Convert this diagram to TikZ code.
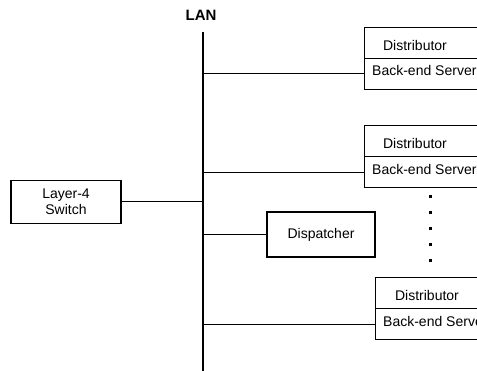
\documentclass[tikz,border=0pt]{standalone}
\usepackage{fontspec}
\setmainfont{Liberation Sans}
\begin{document}
\begin{tikzpicture}[x=1pt,y=-1pt,
  wire/.style={line width=1.1pt},
  box/.style={draw,line width=1.1pt,rectangle,inner sep=0pt},
  cell/.style={box,minimum width=140pt,minimum height=31pt,anchor=north west},
  lbl/.style={inner sep=0pt,font=\fontsize{14}{16.5}\selectfont},
  dotmark/.style={fill=black,inner sep=0pt,minimum size=3pt,rectangle}]
\useasboundingbox (0,0) rectangle (477,370);
\clip (0,0) rectangle (477,370);

% LAN backbone
\node[lbl,font=\bfseries\fontsize{15}{18}\selectfont] (lan) at (201,15.5) {LAN};
\coordinate (lanTop) at (203,32);
\coordinate (lanBot) at (203,372);
\draw[wire] (lanTop) -- (lanBot);

% Layer-4 switch
\node[box,lbl,minimum width=110pt,minimum height=42.3pt,align=center] (sw) at (66,201.9) {Layer-4\\Switch};
\draw[wire] (sw.east) -- (lanTop |- sw.east);

% Distributor / back-end server pairs
\node[cell] (d1) at (364,26.7) {};
\node[cell] (b1) at (364,57.7) {};
\node[lbl] (d1t) at (415,45) {Distributor};
\node[lbl,anchor=west] (b1t) at (372,70.7) {Back-end Server};

\node[cell] (d2) at (364,125) {};
\node[cell] (b2) at (364,156) {};
\node[lbl] (d2t) at (415,143.3) {Distributor};
\node[lbl,anchor=west] (b2t) at (372,169) {Back-end Server};

\node[cell] (d3) at (375,277.3) {};
\node[cell] (b3) at (375,308.3) {};
\node[lbl] (d3t) at (427,295.6) {Distributor};
\node[lbl,anchor=west] (b3t) at (383,321.3) {Back-end Server};

\draw[wire] (b1.west) -- (lanTop |- b1.west);
\draw[wire] (b2.west) -- (lanTop |- b2.west);
\draw[wire] (b3.west) -- (lanTop |- b3.west);

% Dispatcher
\node[box,lbl,minimum width=108pt,minimum height=45pt] (disp) at (321,234.5) {Dispatcher};
\draw[wire] (disp.west) -- (lanTop |- disp.west);

% Ellipsis between the server groups
\foreach \i/\y in {1/196,2/212,3/228,4/244,5/260}
  \node[dotmark] (dot\i) at (430,\y) {};
\end{tikzpicture}
\end{document}
